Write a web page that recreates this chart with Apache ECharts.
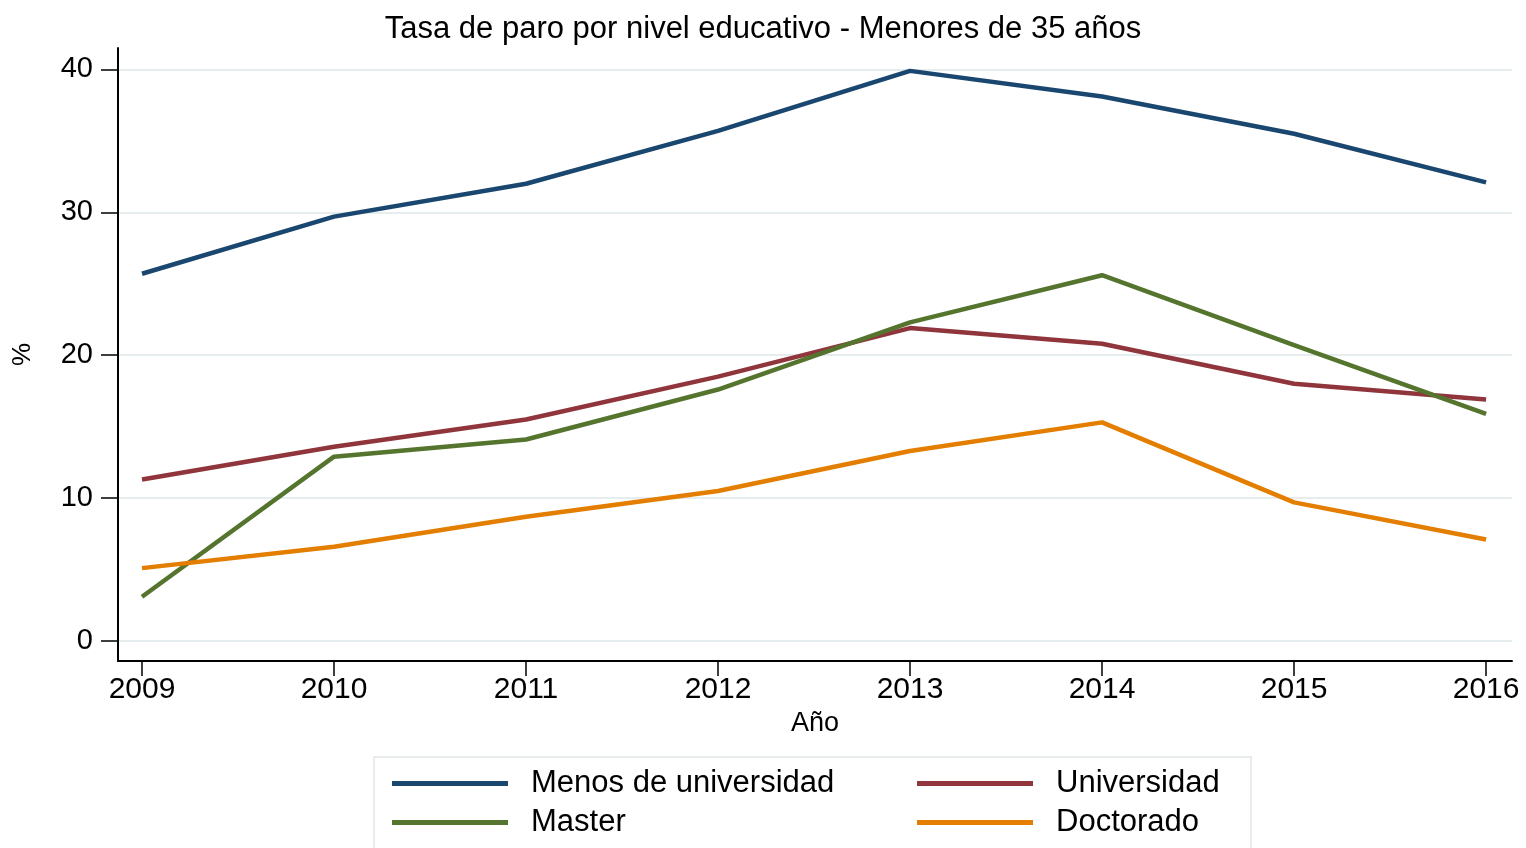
<!DOCTYPE html>
<html lang="es">
<head>
    <meta charset="UTF-8">
    <script src="https://cdn.jsdelivr.net/npm/echarts@6/dist/echarts.min.js"></script>
    <title>Tasa de paro por nivel educativo</title>
    <style>
        html, body { margin: 0; padding: 0; background: #fff; }
    </style>
</head>
<body>
<div id="main" style="width: 1526px;height:848px;"></div>
<script type="text/javascript">
    // datos
    var years = [2009, 2010, 2011, 2012, 2013, 2014, 2015, 2016];
    var menosUniversidad = [25.7, 29.7, 32.0, 35.7, 39.9, 38.1, 35.5, 32.1];
    var universidad = [11.3, 13.6, 15.5, 18.5, 21.9, 20.8, 18.0, 16.9];
    var master = [3.1, 12.9, 14.1, 17.6, 22.3, 25.6, 20.7, 15.9];
    var doctorado = [5.1, 6.6, 8.7, 10.5, 13.3, 15.3, 9.7, 7.1];
    var yTicks = [0, 10, 20, 30, 40];

    var font = '"Liberation Sans", Arial, sans-serif';

    function pairs(vals) {
        return years.map(function (y, i) { return [y, vals[i]]; });
    }

    function lineSeries(name, vals, color) {
        return {
            name: name,
            type: 'line',
            data: pairs(vals),
            symbol: 'none',
            color: color,
            lineStyle: { width: 4.5, color: color },
            animation: false
        };
    }

    var myChart = echarts.init(document.getElementById('main'));

    var legendText = { fontFamily: font, fontSize: 31, color: '#000', padding: [0, 0, 0, 18] };

    var option = {
        backgroundColor: '#fff',
        title: {
            text: 'Tasa de paro por nivel educativo - Menores de 35 años',
            left: 'center',
            top: 9,
            textStyle: { fontFamily: font, fontSize: 31, fontWeight: 'normal', color: '#000' }
        },
        grid: { left: 118, right: 14, top: 48, bottom: 187, outerBoundsMode: 'none', containLabel: false },
        xAxis: {
            type: 'value',
            min: 2008.875,
            max: 2016.135,
            name: 'Año',
            nameLocation: 'middle',
            nameGap: 44,
            nameTextStyle: { fontFamily: font, fontSize: 27, color: '#000' },
            axisLine: { show: true, onZero: false, lineStyle: { color: '#000', width: 2 } },
            axisTick: { show: true, length: 15, customValues: years, lineStyle: { color: '#000', width: 1.5 } },
            axisLabel: {
                customValues: years,
                formatter: function (v) { return String(v); },
                fontFamily: font, fontSize: 30, color: '#000', margin: 14
            },
            splitLine: { show: false }
        },
        yAxis: {
            type: 'value',
            min: -1.4,
            max: 41.5,
            name: '%',
            nameLocation: 'middle',
            nameGap: 82,
            nameRotate: 90,
            nameTextStyle: { fontFamily: font, fontSize: 26, color: '#000' },
            axisLine: { show: true, onZero: false, lineStyle: { color: '#000', width: 2 } },
            axisTick: { show: true, length: 17, customValues: yTicks, lineStyle: { color: '#000', width: 1.5 } },
            axisLabel: {
                customValues: yTicks,
                fontFamily: font, fontSize: 29, color: '#000', margin: 25
            },
            splitLine: { show: true, lineStyle: { color: '#e6edef', width: 2 } }
        },
        graphic: [{
            type: 'rect',
            shape: { x: 374, y: 757, width: 877, height: 100 },
            style: { fill: '#fff', stroke: '#e2e6e8', lineWidth: 1.5 },
            z: -1
        }],
        legend: [{
            orient: 'vertical',
            left: 392,
            top: 768,
            padding: 0,
            itemWidth: 116,
            itemHeight: 5,
            itemGap: 8,
            icon: 'rect',
            textStyle: legendText,
            data: ['Menos de universidad', 'Master']
        }, {
            orient: 'vertical',
            left: 917,
            top: 768,
            padding: 0,
            itemWidth: 116,
            itemHeight: 5,
            itemGap: 8,
            icon: 'rect',
            textStyle: legendText,
            data: ['Universidad', 'Doctorado']
        }],
        series: [
            lineSeries('Menos de universidad', menosUniversidad, '#1a476f'),
            lineSeries('Universidad', universidad, '#90353b'),
            lineSeries('Master', master, '#55752f'),
            lineSeries('Doctorado', doctorado, '#e37e00')
        ]
    };

    myChart.setOption(option);
</script>
</body>
</html>
